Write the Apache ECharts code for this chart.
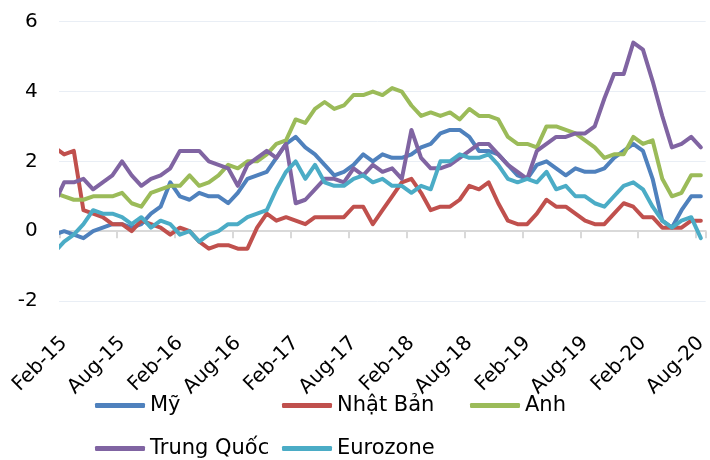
<!DOCTYPE html>
<html>
<head>
<meta charset="utf-8">
<script src="https://cdn.jsdelivr.net/npm/echarts@6/dist/echarts.min.js"></script>
<style>
  html, body { margin: 0; padding: 0; background: #fff; }
  #chart { width: 710px; height: 460px; }
</style>
</head>
<body>
<div id="chart"></div>
<script>
// Monthly year-on-year inflation, Jan-15 .. Aug-20 (%)
const monthNames = ['Jan','Feb','Mar','Apr','May','Jun','Jul','Aug','Sep','Oct','Nov','Dec'];
const categories = [];
for (let y = 15; y <= 20; y++) {
  for (let m = 0; m < 12; m++) {
    if (y === 20 && m > 7) break;
    categories.push(monthNames[m] + '-' + y);
  }
}

const seriesNames = ['Mỹ', 'Nhật Bản', 'Anh', 'Trung Quốc', 'Eurozone'];

const my = [
  -0.1, 0.0, -0.1, -0.2, 0.0, 0.1, 0.2, 0.2, 0.1, 0.2, 0.5, 0.7,
  1.4, 1.0, 0.9, 1.1, 1.0, 1.0, 0.8, 1.1, 1.5, 1.6, 1.7, 2.1,
  2.5, 2.7, 2.4, 2.2, 1.9, 1.6, 1.7, 1.9, 2.2, 2.0, 2.2, 2.1,
  2.1, 2.2, 2.4, 2.5, 2.8, 2.9, 2.9, 2.7, 2.3, 2.3, 2.2, 1.9,
  1.6, 1.5, 1.9, 2.0, 1.8, 1.6, 1.8, 1.7, 1.7, 1.8, 2.1, 2.3,
  2.5, 2.3, 1.5, 0.3, 0.1, 0.6, 1.0, 1.0
];
const nhatBan = [
  2.4, 2.2, 2.3, 0.6, 0.5, 0.4, 0.2, 0.2, 0.0, 0.3, 0.2, 0.1,
  -0.1, 0.1, 0.0, -0.3, -0.5, -0.4, -0.4, -0.5, -0.5, 0.1, 0.5, 0.3,
  0.4, 0.3, 0.2, 0.4, 0.4, 0.4, 0.4, 0.7, 0.7, 0.2, 0.6, 1.0,
  1.4, 1.5, 1.1, 0.6, 0.7, 0.7, 0.9, 1.3, 1.2, 1.4, 0.8, 0.3,
  0.2, 0.2, 0.5, 0.9, 0.7, 0.7, 0.5, 0.3, 0.2, 0.2, 0.5, 0.8,
  0.7, 0.4, 0.4, 0.1, 0.1, 0.1, 0.3, 0.3
];
const anh = [
  1.1, 1.0, 0.9, 0.9, 1.0, 1.0, 1.0, 1.1, 0.8, 0.7, 1.1, 1.2,
  1.3, 1.3, 1.6, 1.3, 1.4, 1.6, 1.9, 1.8, 2.0, 2.0, 2.2, 2.5,
  2.6, 3.2, 3.1, 3.5, 3.7, 3.5, 3.6, 3.9, 3.9, 4.0, 3.9, 4.1,
  4.0, 3.6, 3.3, 3.4, 3.3, 3.4, 3.2, 3.5, 3.3, 3.3, 3.2, 2.7,
  2.5, 2.5, 2.4, 3.0, 3.0, 2.9, 2.8, 2.6, 2.4, 2.1, 2.2, 2.2,
  2.7, 2.5, 2.6, 1.5, 1.0, 1.1, 1.6, 1.6
];
const trungQuoc = [
  0.8, 1.4, 1.4, 1.5, 1.2, 1.4, 1.6, 2.0, 1.6, 1.3, 1.5, 1.6,
  1.8, 2.3, 2.3, 2.3, 2.0, 1.9, 1.8, 1.3, 1.9, 2.1, 2.3, 2.1,
  2.5, 0.8, 0.9, 1.2, 1.5, 1.5, 1.4, 1.8, 1.6, 1.9, 1.7, 1.8,
  1.5, 2.9, 2.1, 1.8, 1.8, 1.9, 2.1, 2.3, 2.5, 2.5, 2.2, 1.9,
  1.7, 1.5, 2.3, 2.5, 2.7, 2.7, 2.8, 2.8, 3.0, 3.8, 4.5, 4.5,
  5.4, 5.2, 4.3, 3.3, 2.4, 2.5, 2.7, 2.4
];
const eurozone = [
  -0.6, -0.3, -0.1, 0.2, 0.6, 0.5, 0.5, 0.4, 0.2, 0.4, 0.1, 0.3,
  0.2, -0.1, 0.0, -0.3, -0.1, 0.0, 0.2, 0.2, 0.4, 0.5, 0.6, 1.2,
  1.7, 2.0, 1.5, 1.9, 1.4, 1.3, 1.3, 1.5, 1.6, 1.4, 1.5, 1.3,
  1.3, 1.1, 1.3, 1.2, 2.0, 2.0, 2.2, 2.1, 2.1, 2.2, 1.9, 1.5,
  1.4, 1.5, 1.4, 1.7, 1.2, 1.3, 1.0, 1.0, 0.8, 0.7, 1.0, 1.3,
  1.4, 1.2, 0.7, 0.3, 0.1, 0.3, 0.4, -0.2
];

const yTicks = { min: -2, max: 6, interval: 2 };
const colors = ['#4F81BD', '#C0504D', '#9BBB59', '#8064A2', '#4BACC6'];
const values = [my, nhatBan, anh, trungQuoc, eurozone];

const FONT = 'DejaVu Sans';
// plot area: the first band (Jan-15) sits left of the visible plot edge
const band = 9.72;
const plotLeft = 59.4;
const gridLeft = plotLeft - band;
const gridTop = 21.7;
const gridHeight = 279.3;

// labelled months: Feb and Aug of every year
const showEvery6 = (idx) => idx >= 1 && (idx - 1) % 6 === 0;

const legendPos = [
  { left: 95, top: 395 },
  { left: 282, top: 395 },
  { left: 470, top: 395 },
  { left: 95, top: 438 },
  { left: 282, top: 438 }
];

const chart = echarts.init(document.getElementById('chart'), null, { renderer: 'canvas' });

chart.setOption({
  animation: false,
  backgroundColor: '#ffffff',
  color: colors,
  textStyle: { fontFamily: FONT },
  grid: {
    left: gridLeft,
    top: gridTop,
    width: band * categories.length,
    height: gridHeight,
    containLabel: false
  },
  legend: seriesNames.map((name, i) => ({
    data: [name],
    left: legendPos[i].left,
    top: legendPos[i].top,
    padding: 0,
    icon: 'roundRect',
    itemWidth: 50,
    itemHeight: 5,
    selectedMode: false,
    textStyle: { fontFamily: FONT, fontSize: 21, color: '#000' }
  })),
  xAxis: {
    type: 'category',
    data: categories,
    boundaryGap: true,
    axisLine: { onZero: true, lineStyle: { color: '#d9d9d9', width: 2 } },
    axisTick: {
      show: true,
      interval: showEvery6,
      length: 7,
      lineStyle: { color: '#d9d9d9', width: 2 }
    },
    axisLabel: {
      interval: showEvery6,
      rotate: 45,
      margin: 39,
      fontFamily: FONT,
      fontSize: 20,
      color: '#000'
    },
    splitLine: { show: false }
  },
  yAxis: {
    type: 'value',
    min: yTicks.min,
    max: yTicks.max,
    interval: yTicks.interval,
    axisLine: { show: false },
    axisTick: { show: false },
    axisLabel: { fontFamily: FONT, fontSize: 20, color: '#000', margin: 12 },
    splitLine: { lineStyle: { color: '#e9eef5', width: 1 } }
  },
  series: seriesNames.map((name, i) => ({
    name: name,
    type: 'line',
    data: values[i],
    showSymbol: false,
    symbol: 'none',
    clip: true,
    lineStyle: { width: 4, color: colors[i], cap: 'round', join: 'round' },
    itemStyle: { color: colors[i] },
    emphasis: { disabled: true }
  })),
  graphic: [{
    // mask the partial Jan-15 band so the plot starts at the Feb-15 boundary
    type: 'rect',
    z: 100,
    shape: { x: gridLeft - 4, y: gridTop - 6, width: plotLeft - gridLeft + 3.6, height: gridHeight + 12 },
    style: { fill: '#ffffff' },
    silent: true
  }]
});
</script>
</body>
</html>
